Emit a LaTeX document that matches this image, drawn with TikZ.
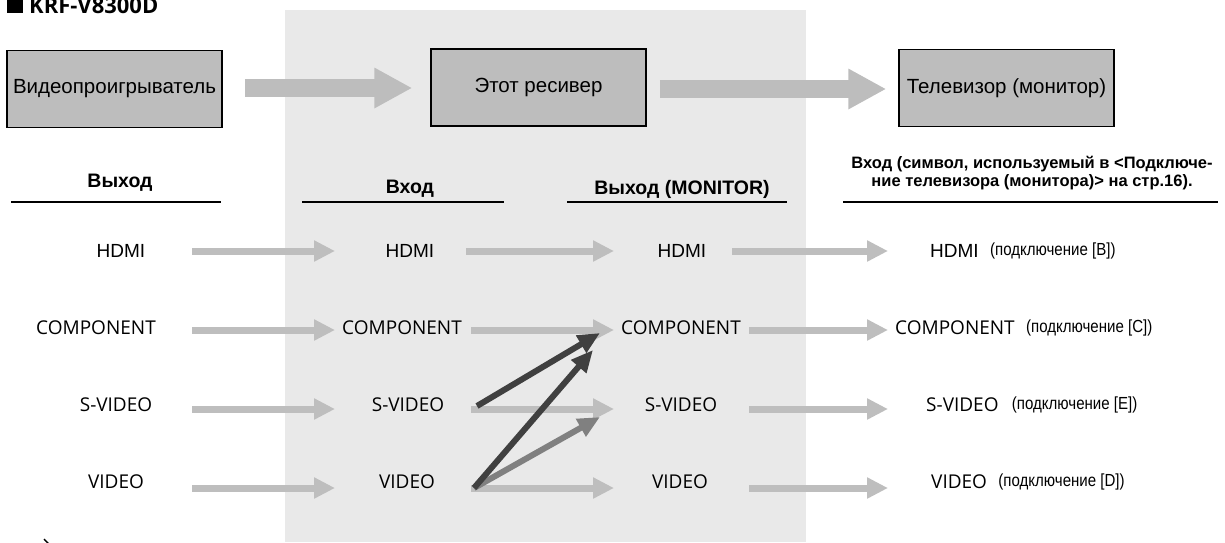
\documentclass[tikz,border=0pt]{standalone}
\usepackage{fontspec}
\setmainfont{Liberation Sans}
\newfontfamily\arialf{Liberation Sans}
\newfontfamily\humanf{Open Sans}
\newfontfamily\narrowf[FakeStretch=0.86]{Liberation Sans}
\newfontfamily\titlef{Open Sans}
\usetikzlibrary{arrows.meta,calc}

\definecolor{panelgray}{HTML}{E9E9E9}
\definecolor{boxgray}{HTML}{BDBDBD}
\definecolor{flowgray}{HTML}{BEBEBE}
\definecolor{darkflow}{HTML}{404040}
\definecolor{midflow}{HTML}{808080}

\tikzset{
  devbox/.style={draw=black, line width=1.5pt, fill=boxgray, minimum width=215pt,
    minimum height=77pt, inner sep=0pt, font=\arialf\fontsize{20.5}{24}\selectfont},
  bigflow/.style={draw=boxgray, line width=18pt, -{Triangle[length=38pt,width=38pt]}},
  flow/.style={draw=flowgray, line width=7pt, -{Triangle[length=21pt,width=20pt]}},
  crossdark/.style={draw=darkflow, line width=6pt, -{Triangle[length=22pt,width=19pt]}},
  crossmid/.style={draw=midflow, line width=6pt, -{Triangle[length=22pt,width=19pt]}},
  colhead/.style={inner sep=0pt, font=\arialf\bfseries\fontsize{19.5}{22}\selectfont},
  rowlbl/.style={inner sep=0pt, font=\humanf\fontsize{19}{22}\selectfont},
  hdmilbl/.style={inner sep=0pt, font=\arialf\fontsize{19}{22}\selectfont},
  notelbl/.style={inner sep=0pt, font=\narrowf\fontsize{17.5}{20}\selectfont},
  rule/.style={draw=black, line width=2pt}
}

\begin{document}
\begin{tikzpicture}[x=1pt,y=-1pt]
\useasboundingbox (0,0) rectangle (1225,542);

% shaded block standing for the receiver
\fill[panelgray] (285,10) rectangle (806,542);

% heading
\fill[black] (7,-2) rectangle (23,13);
\node[anchor=base west, inner sep=0pt, font=\titlef\bfseries\fontsize{22}{24}\selectfont]
  (title) at (29,13.5) {KRF-V8300D};

% the three devices
\node[devbox] (player) at (114.5,89) {Видеопроигрыватель};
\node[devbox] (receiver) at (538.5,87.5) {Этот ресивер};
\node[devbox] (tv) at (1006.5,88) {Телевизор (монитор)};

\draw[bigflow] ([xshift=22pt]player.east |- 0,88) -- ([xshift=-18pt]receiver.west |- 0,88);
\draw[bigflow] ([xshift=13pt]receiver.east |- 0,89) -- ([xshift=-12pt]tv.west |- 0,89);

% column headings
\node[colhead] (h1) at (120,183) {Выход};
\node[colhead] (h2) at (410,189) {Вход};
\node[colhead] (h3) at (682,189) {Выход (MONITOR)};
\node[inner sep=0pt, align=center, font=\arialf\bfseries\fontsize{16.5}{18}\selectfont]
  (h4) at (1032,173) {Вход (символ, используемый в <Подключе-\\ние телевизора (монитора)> на стр.16).};

\draw[rule] (11,202) -- (221,202);
\draw[rule] (302,202) -- (504,202);
\draw[rule] (567,202) -- (787,202);
\draw[rule] (843,202) -- (1218,202);

% rows of connector lines
\coordinate (aH) at (0,251);
\coordinate (aC) at (0,330);
\coordinate (aS) at (0,409);
\coordinate (aV) at (0,488);

% column 1: outputs of the player
\node[hdmilbl] (o1) at (121,251) {HDMI};
\node[rowlbl] (o2) at (96,328) {COMPONENT};
\node[rowlbl] (o3) at (116,405) {S-VIDEO};
\node[rowlbl] (o4) at (116,482) {VIDEO};

% column 2: receiver inputs
\node[hdmilbl] (i1) at (410,251) {HDMI};
\node[rowlbl] (i2) at (402,328) {COMPONENT};
\node[rowlbl] (i3) at (408,405) {S-VIDEO};
\node[rowlbl] (i4) at (407,482) {VIDEO};

% column 3: receiver monitor outputs
\node[hdmilbl] (m1) at (682,251) {HDMI};
\node[rowlbl] (m2) at (681,328) {COMPONENT};
\node[rowlbl] (m3) at (681,405) {S-VIDEO};
\node[rowlbl] (m4) at (680,482) {VIDEO};

% column 4: TV inputs
\node[hdmilbl, anchor=west] (t1) at (930,251) {HDMI};
\node[rowlbl, anchor=west] (t2) at (895,328) {COMPONENT};
\node[rowlbl, anchor=west] (t3) at (926,405) {S-VIDEO};
\node[rowlbl, anchor=west] (t4) at (931,482) {VIDEO};
\node[notelbl, anchor=west] (n1) at ([xshift=11pt]t1.east) {(подключение [B])};
\node[notelbl, anchor=west] (n2) at ([xshift=11pt]t2.east) {(подключение [C])};
\node[notelbl, anchor=west] (n3) at ([xshift=13pt]t3.east) {(подключение [E])};
\node[notelbl, anchor=west] (n4) at ([xshift=11pt]t4.east) {(подключение [D])};

% x positions of the small arrows
\coordinate (s1) at (192,0);  \coordinate (e1) at (335,0);
\coordinate (s2) at (471,0);  \coordinate (s2h) at (466,0); \coordinate (e2) at (614,0);
\coordinate (s3) at (749,0);  \coordinate (s3h) at (732,0); \coordinate (e3) at (888,0);

\draw[flow] (aH -| s1) -- (aH -| e1);
\draw[flow] (aC -| s1) -- (aC -| e1);
\draw[flow] (aS -| s1) -- (aS -| e1);
\draw[flow] (aV -| s1) -- (aV -| e1);

\draw[flow] (aH -| s2h) -- (aH -| e2);
\draw[flow] (aC -| s2) -- (aC -| e2);
\draw[flow] (aS -| s2) -- (aS -| e2);
\draw[flow] (aV -| s2) -- (aV -| e2);

\draw[flow] (aH -| s3h) -- (aH -| e3);
\draw[flow] (aC -| s3) -- (aC -| e3);
\draw[flow] (aS -| s3) -- (aS -| e3);
\draw[flow] (aV -| s3) -- (aV -| e3);

% down-conversion paths inside the receiver
\coordinate (svOut) at (477,406);
\coordinate (vOut) at (474,488);
\coordinate (compIn) at (600,333);
\coordinate (compIn2) at (593,350);
\coordinate (svIn) at (600,417);
\draw[crossmid] (vOut) -- (svIn);
\draw[crossdark] (svOut) -- (compIn);
\draw[crossdark] (vOut) -- (compIn2);

% note icon at the foot
\draw[black, line width=1.6pt] (39,544) arc[start angle=180, end angle=20, radius=6.5];
\draw[black, line width=1.4pt] (44,539) -- (49,544);
\end{tikzpicture}
\end{document}
